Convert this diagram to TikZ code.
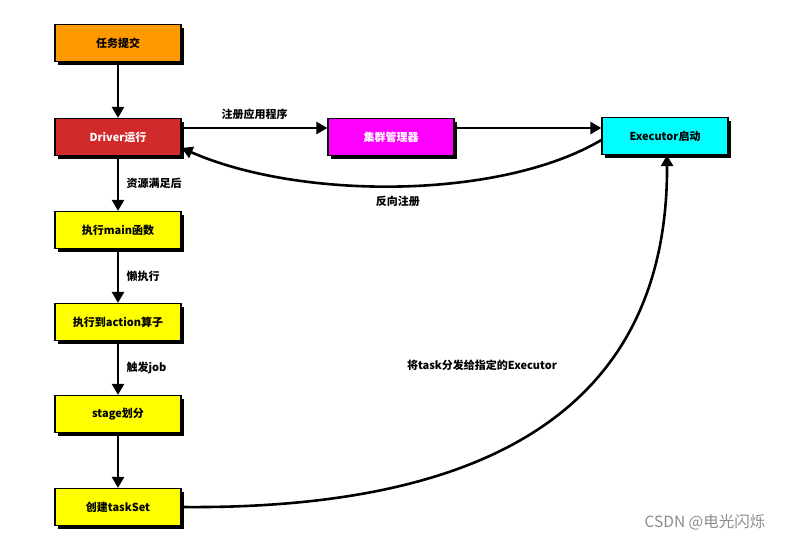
\documentclass[tikz,border=0pt]{standalone}
\usepackage{fontspec}
\setmainfont{Noto Sans CJK SC}
\usetikzlibrary{arrows.meta,shadows}

\definecolor{submitorange}{HTML}{FF9900}
\definecolor{driverred}{HTML}{D02A2A}
\definecolor{cmmagenta}{HTML}{FF00FF}
\definecolor{execcyan}{HTML}{00FFFF}
\definecolor{stepyellow}{HTML}{FFFF00}

\tikzset{
    box/.style={draw=black, line width=1.2pt, minimum width=126pt, minimum height=37pt,
        inner sep=0pt, font=\fontsize{11}{13}\selectfont\bfseries,
        drop shadow={shadow xshift=3pt, shadow yshift=-3pt, fill=black, opacity=1}},
    flow/.style={line width=2.6pt, -{Triangle[length=11pt,width=12pt]}},
    lbl/.style={font=\fontsize{11}{13}\selectfont\bfseries}
}

\begin{document}
\begin{tikzpicture}[x=1pt, y=-1pt]
    \useasboundingbox (0,0) rectangle (788,542);

        \begin{scope}[every node/.style={box}]
        \node[fill=submitorange] (submit) at (118,43) {任务提交};
        \node[fill=driverred, text=white] (driver) at (118,137) {Driver运行};
        \node[fill=cmmagenta, text=white] (cm) at (391,137) {集群管理器};
        \node[fill=execcyan] (exec) at (665,136) {Executor启动};
        \node[fill=stepyellow] (mainfn) at (118,230) {执行main函数};
        \node[fill=stepyellow] (action) at (118,322) {执行到action算子};
        \node[fill=stepyellow] (stage) at (118,414) {stage划分};
        \node[fill=stepyellow] (taskset) at (118,507) {创建taskSet};
        \end{scope}

        \draw[flow] (submit) -- (driver);
        \draw[flow] (driver) -- node[lbl, right=4pt] {资源满足后} (mainfn);
        \draw[flow] (mainfn) -- node[lbl, right=4pt] {懒执行} (action);
        \draw[flow] (action) -- node[lbl, right=4pt] {触发job} (stage);
        \draw[flow] (stage) -- (taskset);
        \draw[flow] ([yshift=9pt]driver.east) -- node[lbl, above=4pt] {注册应用程序} ([yshift=9pt]cm.west);
        \draw[flow] ([yshift=9pt]cm.east) -- ([yshift=8pt]exec.west);
        \draw[flow] ([yshift=-4pt]exec.west) .. controls (500,200) and (300,200) .. node[lbl, below=5pt] {反向注册} ([yshift=-11pt]driver.east);
        \draw[flow] (taskset.east) .. controls (500,510) and (668,400) .. ([xshift=2pt]exec.south);

        \node[lbl] (dispatch) at (482,365) {将task分发给指定的Executor};
        \node[font=\fontsize{15.5}{18}\selectfont, text=black!45] (mark) at (705,522) {CSDN @电光闪烁};

    \end{tikzpicture}
\end{document}
